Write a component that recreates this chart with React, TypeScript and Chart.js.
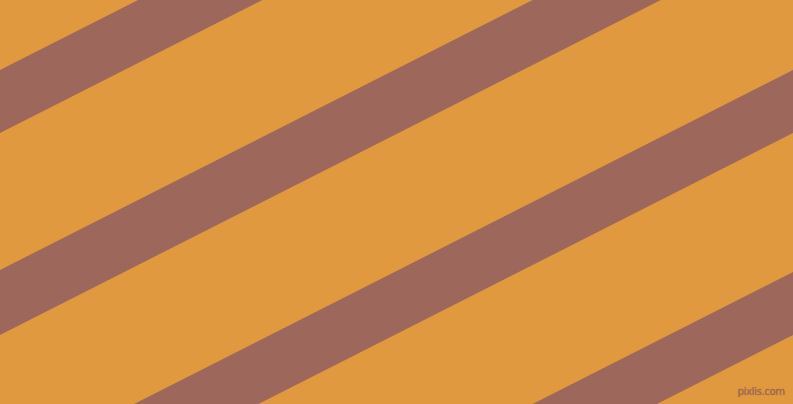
import { useEffect, useRef } from "react";
import { Chart, registerables } from "chart.js";

Chart.register(...registerables);

// stripe edges, read in pixels (y measured from the top) at the left (x=0) and right (x=793) sides
const stripeTopLeft = [70, 270, 472, 674];
const stripeTopRight = [-332, -132, 70, 272];
const stripeBottomLeft = [133, 335, 535, 737];
const stripeBottomRight = [-269, -67, 133, 335];
const xEnds = [0, 793];

const WIDTH = 793;
const HEIGHT = 404;
const BG = "#E0993F";
const STRIPE = "#9E675C";

const App = () => {
  const chartRef = useRef<HTMLCanvasElement | null>(null);

  useEffect(() => {
    document.body.style.margin = "0";
    if (!chartRef.current) return;

    const datasets: any[] = [];
    stripeTopLeft.forEach((_, i) => {
      datasets.push({
        data: [
          { x: xEnds[0], y: stripeTopLeft[i] },
          { x: xEnds[1], y: stripeTopRight[i] },
        ],
        fill: "+1",
        backgroundColor: STRIPE,
        borderWidth: 0,
        pointRadius: 0,
      });
      datasets.push({
        data: [
          { x: xEnds[0], y: stripeBottomLeft[i] },
          { x: xEnds[1], y: stripeBottomRight[i] },
        ],
        fill: false,
        borderWidth: 0,
        pointRadius: 0,
      });
    });

    const chartInstance = new Chart(chartRef.current, {
      type: "line",
      data: { datasets },
      options: {
        responsive: false,
        animation: false,
        layout: { padding: 0 },
        plugins: { legend: { display: false }, tooltip: { enabled: false } },
        scales: {
          x: { type: "linear", min: 0, max: WIDTH, display: false },
          y: { type: "linear", min: 0, max: HEIGHT, reverse: true, display: false },
        },
      },
    });

    return () => {
      chartInstance.destroy();
    };
  }, []);

  return (
    <div style={{ position: "relative", width: WIDTH, height: HEIGHT, background: BG }}>
      <canvas ref={chartRef} width={WIDTH} height={HEIGHT}></canvas>
      <span
        style={{
          position: "absolute",
          right: 8,
          top: 385,
          fontFamily: "'DejaVu Sans', sans-serif",
          fontSize: 10,
          lineHeight: "14px",
          letterSpacing: "-0.3px",
          color: "#A06A55",
          textShadow: "0 0 1px #8E5A4C",
        }}
      >
        pixlis.com
      </span>
    </div>
  );
};

export default App;
